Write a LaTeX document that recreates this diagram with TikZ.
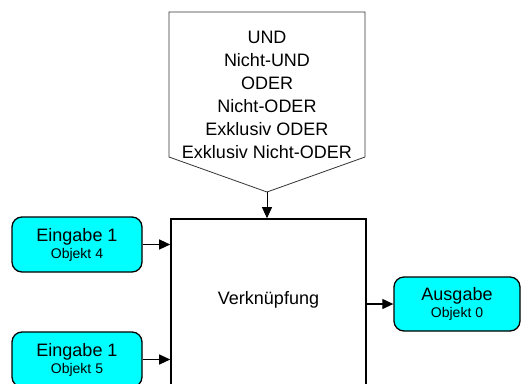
\documentclass[tikz,border=0pt]{standalone}
\usepackage{fontspec}
\setmainfont{Liberation Sans}
\usetikzlibrary{arrows.meta}
\definecolor{boxcyan}{RGB}{0,255,255}
\begin{document}
\begin{tikzpicture}[x=1pt,y=-1pt,
  iobox/.style={draw=black, line width=1.3pt, fill=boxcyan, rounded corners=10pt,
    minimum width=#1, minimum height=55pt, inner sep=0pt, align=center},
  mainbox/.style={draw=black, line width=1.6pt, minimum width=195pt, minimum height=167pt, inner sep=0pt},
  conn/.style={line width=1.2pt, -{Triangle[length=11pt,width=10pt]}},
  thinconn/.style={line width=0.8pt, -{Triangle[length=11pt,width=10pt]}},
  big/.style={font=\fontsize{18}{23}\selectfont},
]
\useasboundingbox (0,0) rectangle (521,383);
% top selection shape
\draw[line width=0.8pt, draw=black!80] (169,12) -- (365,12) -- (365,157) -- (267,192) -- (169,157) -- cycle;
\coordinate (tip) at (267,192);
\node (ops) [big, align=center, inner sep=0pt] at (267,94.5)
  {UND\\Nicht-UND\\ODER\\Nicht-ODER\\Exklusiv ODER\\Exklusiv Nicht-ODER};
% main box
\begin{scope}
\clip (0,0) rectangle (521,383);
\node (logic) [mainbox] at (268.5,302.5) {};
\end{scope}
\node (verk) [big] at (268.5,300) {Verknüpfung};
% inputs
\node (in1) [iobox=130pt] at (77,244.5)
  {\fontsize{18}{20}\selectfont Eingabe 1\\[2pt]\fontsize{14}{20}\selectfont Objekt 4};
\node (in2) [iobox=130pt] at (77,359.5)
  {\fontsize{18}{20}\selectfont Eingabe 1\\[2pt]\fontsize{14}{20}\selectfont Objekt 5};
% output
\node (out) [iobox=126pt, minimum height=54pt] at (457,304)
  {\fontsize{18}{20}\selectfont Ausgabe\\[2pt]\fontsize{14}{20}\selectfont Objekt 0};
% connectors
\draw[thinconn] (tip) -- (tip |- logic.north);
\draw[conn] (in1.east) -- (in1.east -| logic.west);
\draw[conn] (in2.east) -- (in2.east -| logic.west);
\draw[conn] (out.west -| logic.east) -- (out.west);
\end{tikzpicture}
\end{document}
